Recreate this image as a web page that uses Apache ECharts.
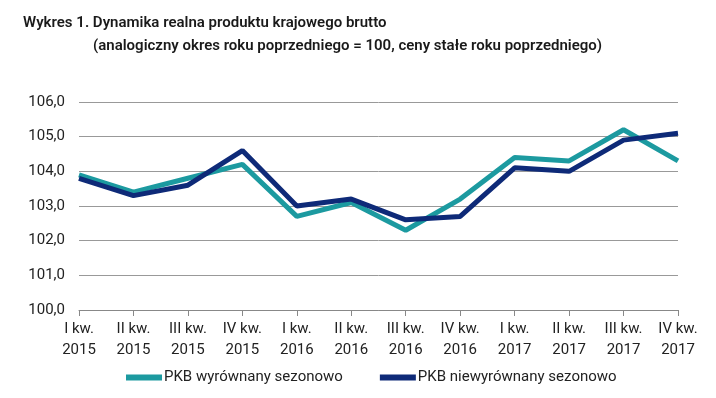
<!DOCTYPE html>
<html>
<head>
<meta charset="utf-8">
<script src="https://cdn.jsdelivr.net/npm/echarts@6/dist/echarts.min.js"></script>
<style>
html,body{margin:0;padding:0;background:#fff;}
#chart{width:716px;height:398px;}
</style>
</head>
<body>
<div id="chart"></div>
<script>
const categories = ['I kw.\n2015','II kw.\n2015','III kw.\n2015','IV kw.\n2015','I kw.\n2016','II kw.\n2016','III kw.\n2016','IV kw.\n2016','I kw.\n2017','II kw.\n2017','III kw.\n2017','IV kw.\n2017'];
const pkbSA = [103.9,103.4,103.8,104.2,102.7,103.1,102.3,103.2,104.4,104.3,105.2,104.3];
const pkbNSA = [103.8,103.3,103.6,104.6,103.0,103.2,102.6,102.7,104.1,104.0,104.9,105.1];
const seriesNames = ['PKB wyrównany sezonowo','PKB niewyrównany sezonowo'];
const titleLine1 = 'Wykres 1. Dynamika realna produktu krajowego brutto';
const titleLine2 = '(analogiczny okres roku poprzedniego = 100, ceny stałe roku poprzedniego)';

const FONT = 'Roboto';
const chart = echarts.init(document.getElementById('chart'), null, {renderer:'canvas'});
chart.setOption({
  animation:false,
  backgroundColor:'#fff',
  title:[
    {text:titleLine1,left:18,top:11,textStyle:{fontFamily:FONT,fontSize:15,fontWeight:600,color:'#1a1a1a'}},
    {text:titleLine2,left:88,top:34,textStyle:{fontFamily:FONT,fontSize:15,fontWeight:600,color:'#1a1a1a'}}
  ],
  legend:{
    left:121,top:365,icon:'rect',itemWidth:36,itemHeight:6,itemGap:37,
    textStyle:{fontFamily:FONT,fontSize:15,color:'#222',padding:[0,0,0,-3]},
    data:seriesNames
  },
  grid:{left:79,right:38,top:102,bottom:88},
  xAxis:{
    type:'category',data:categories,boundaryGap:false,
    axisLine:{lineStyle:{color:'#888',width:1}},
    axisTick:{show:true,length:6,lineStyle:{color:'#888'}},
    axisLabel:{fontFamily:FONT,fontSize:15,color:'#222',lineHeight:21,margin:9,interval:0}
  },
  yAxis:{
    type:'value',min:100,max:106,interval:1,
    axisLine:{show:false},axisTick:{show:false},
    splitLine:{lineStyle:{color:'#999',width:1}},
    axisLabel:{fontFamily:FONT,fontSize:15,color:'#222',margin:14,formatter:v=>v.toFixed(1).replace('.',',')}
  },
  series:[
    {name:seriesNames[0],type:'line',data:pkbSA,symbol:'none',lineStyle:{color:'#1c9aa0',width:5},itemStyle:{color:'#1c9aa0'}},
    {name:seriesNames[1],type:'line',data:pkbNSA,symbol:'none',lineStyle:{color:'#0e2a78',width:5},itemStyle:{color:'#0e2a78'}}
  ]
});
</script>
</body>
</html>
